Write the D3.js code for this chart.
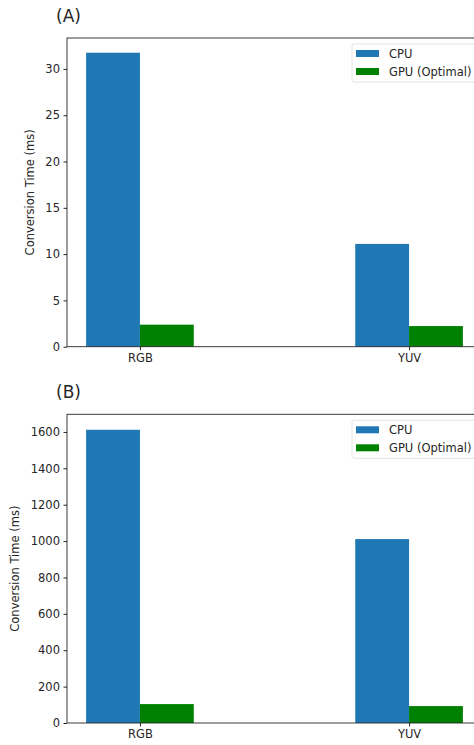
<!DOCTYPE html>
<head>
  <meta charset="utf-8">
  <script src="https://d3js.org/d3.v7.min.js"></script>
  <style>
    body { margin: 0; background: #fff; }
    svg { display: block; }
    text { font-family: 'DejaVu Sans'; fill: #262626; }
    .tick text { font-size: 11.5px; }
    .tick line { stroke: #262626; }
    .domain { display: none; }
  </style>
</head>
<body>
  <script>
    var categories = ["RGB", "YUV"];
    var series = ["CPU", "GPU (Optimal)"];
    var colors = ["#1f77b4", "#008000"];

    var cpuA = [31.75, 11.1];
    var gpuA = [2.38, 2.23];
    var ticksA = [0, 5, 10, 15, 20, 25, 30];

    var cpuB = [1612, 1011];
    var gpuB = [104, 93];
    var ticksB = [0, 200, 400, 600, 800, 1000, 1200, 1400, 1600];

    var width = 474, height = 745;

    var svg = d3.select("body").append("svg")
        .attr("width", width)
        .attr("height", height);

    var x = d3.scaleLinear()
        .domain([-0.271, 1.271])
        .range([67, 482]);

    var barW = 0.2;

    function panel(opts) {
      var y = d3.scaleLinear()
          .domain([0, opts.max])
          .range([opts.bottom, opts.top]);

      var g = svg.append("g");

      g.append("text")
          .attr("x", 56)
          .attr("y", opts.top - 16)
          .style("font-size", "17px")
          .text(opts.label);

      var rows = [];
      categories.forEach(function(c, i) {
        rows.push({ cat: i, s: 0, v: opts.cpu[i] });
        rows.push({ cat: i, s: 1, v: opts.gpu[i] });
      });

      g.selectAll(".bar")
          .data(rows)
        .enter().append("rect")
          .attr("class", "bar")
          .attr("x", function(d) { return x(d.cat - barW + d.s * barW); })
          .attr("width", x(barW) - x(0))
          .attr("y", function(d) { return y(d.v); })
          .attr("height", function(d) { return y(0) - y(d.v); })
          .attr("fill", function(d) { return colors[d.s]; });

      g.append("g")
          .attr("class", "y axis")
          .attr("transform", "translate(67,0)")
          .call(d3.axisLeft(y).tickValues(opts.ticks).tickFormat(d3.format("d"))
            .tickSize(3.5).tickPadding(3.5));

      g.append("g")
          .attr("class", "x axis")
          .attr("transform", "translate(0," + opts.bottom + ")")
          .call(d3.axisBottom(x).tickValues([0, 1])
            .tickFormat(function(d) { return categories[d]; })
            .tickSize(3.5).tickPadding(3.5));

      // frame
      g.append("rect")
          .attr("x", 67)
          .attr("y", opts.top)
          .attr("width", x.range()[1] - 67)
          .attr("height", opts.bottom - opts.top)
          .attr("fill", "none")
          .attr("stroke", "#262626")
          .attr("stroke-width", 0.9);

      g.append("text")
          .attr("transform", "translate(" + opts.ylabelX + "," + ((opts.top + opts.bottom) / 2) + ") rotate(-90)")
          .attr("text-anchor", "middle")
          .style("font-size", "11.5px")
          .text("Conversion Time (ms)");

      // legend
      var lg = g.append("g").attr("transform", "translate(352," + (opts.top + 6) + ")");
      lg.append("rect")
          .attr("width", 140)
          .attr("height", 38)
          .attr("rx", 2)
          .attr("fill", "#fff")
          .attr("fill-opacity", 0.8)
          .attr("stroke", "#dcdcdc")
          .attr("stroke-width", 0.8);
      series.forEach(function(s, i) {
        lg.append("rect")
            .attr("x", 4)
            .attr("y", 6 + i * 18)
            .attr("width", 23)
            .attr("height", 7)
            .attr("fill", colors[i]);
        lg.append("text")
            .attr("x", 37)
            .attr("y", 13.5 + i * 18)
            .style("font-size", "11.5px")
            .text(s);
      });
    }

    panel({ label: "(A)", cpu: cpuA, gpu: gpuA, ticks: ticksA, max: 33.34, top: 38, bottom: 346.7, ylabelX: 34 });
    panel({ label: "(B)", cpu: cpuB, gpu: gpuB, ticks: ticksB, max: 1697, top: 414.3, bottom: 723, ylabelX: 19 });
  </script>
</body>
